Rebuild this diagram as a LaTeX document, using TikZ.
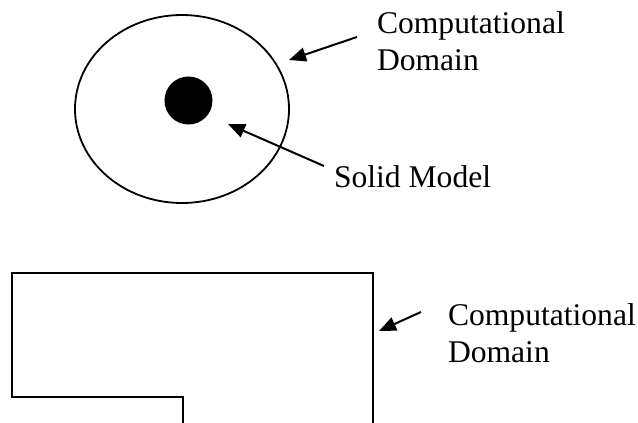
\documentclass[tikz,border=0pt]{standalone}
\usepackage{fontspec}
\setmainfont{Liberation Serif}
\usetikzlibrary{arrows.meta,shapes.geometric}
\begin{document}
\begin{tikzpicture}[x=1pt,y=-1pt,
  lbl/.style={inner sep=0pt,outer sep=0pt,align=left,font=\fontsize{31.6}{37.5}\selectfont},
  pointer/.style={line width=2pt,-{Triangle[length=17pt,width=14pt]}},
  outline/.style={line width=1.8pt}]
\useasboundingbox (0,0) rectangle (638,423);
\clip (0,0) rectangle (638,423);
% circular domain
\node[outline,draw,ellipse,minimum width=214pt,minimum height=188pt,inner sep=0pt] (dom) at (182,109) {};
\node[fill=black,circle,minimum size=48pt,inner sep=0pt] (solid) at (188.5,100.5) {};
\node[lbl,anchor=north west] (cd1) at (377,11.4) {Computational\\Domain};
\node[lbl,anchor=base west] (sm) at (334,187) {Solid Model};
\coordinate (t1a) at (357,37);
\coordinate (h1a) at (289,60);
\coordinate (t2a) at (324,166);
\coordinate (h2a) at (228,124);
\draw[pointer] (t1a) -- (h1a);
\draw[pointer] (t2a) -- (h2a);
% rectangular domain
\coordinate (r1) at (183,430);
\coordinate (r2) at (183,397);
\coordinate (r3) at (12,397);
\coordinate (r4) at (12,273);
\coordinate (r5) at (373,273);
\coordinate (r6) at (373,430);
\draw[outline] (r1) -- (r2) -- (r3) -- (r4) -- (r5) -- (r6);
\node[lbl,anchor=north west] (cd2) at (448,303.5) {Computational\\Domain};
\coordinate (t3a) at (421,312);
\coordinate (h3a) at (379,331);
\draw[pointer] (t3a) -- (h3a);
\end{tikzpicture}
\end{document}
